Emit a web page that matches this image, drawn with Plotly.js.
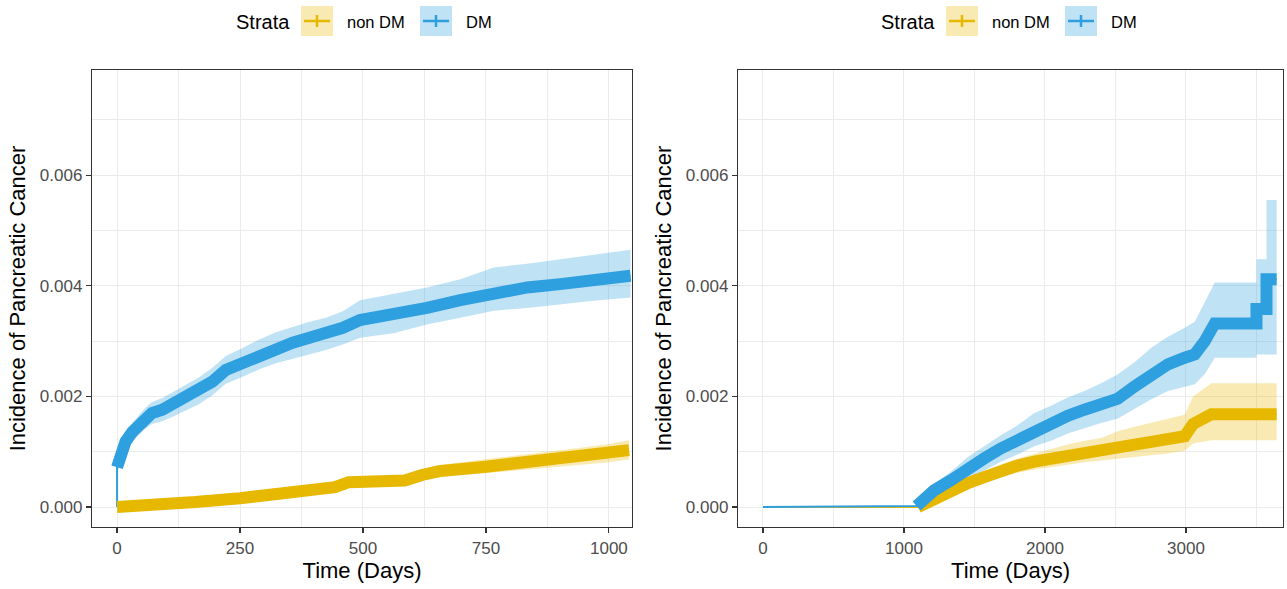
<!DOCTYPE html>
<html>
<head>
<meta charset="utf-8">
<script src="https://cdn.plot.ly/plotly-3.0.1.min.js"></script>
<style>html,body{margin:0;padding:0;background:#fff;}#chart{width:1287px;height:589px;}</style>
</head>
<body>
<div id="chart"></div>
<script>
// ---------- Data ----------
const strata = ["non DM", "DM"];
const colors = ["#E7B800", "#2E9FDF"];
const ciColors = ["rgba(231,184,0,0.3)", "rgba(46,159,223,0.3)"];

// Left panel: 0-1000 days
const dmLeftDays = [0, 0, 10, 17, 31, 44, 58, 71, 92, 112, 139, 166, 194, 221, 252, 289, 323, 357, 391, 425, 459, 494, 562, 630, 698, 766, 834, 901, 969, 1044];
const dmLeftInc = [0, 0.00072, 0.00106, 0.00118, 0.00136, 0.00148, 0.00161, 0.0017, 0.00176, 0.00185, 0.00197, 0.0021, 0.00227, 0.00248, 0.0026, 0.00276, 0.00288, 0.00297, 0.00306, 0.00313, 0.00324, 0.00338, 0.00348, 0.0036, 0.00374, 0.00388, 0.00397, 0.00403, 0.00412, 0.00418];
const dmLeftUpper = [0, 0.00085, 0.0012, 0.00133, 0.00152, 0.00166, 0.0018, 0.0019, 0.00197, 0.00207, 0.0022, 0.00234, 0.00252, 0.00273, 0.00286, 0.00303, 0.00316, 0.00326, 0.00335, 0.00342, 0.00354, 0.00374, 0.00385, 0.00397, 0.00412, 0.00433, 0.0044, 0.00448, 0.00457, 0.00465];
const dmLeftLower = [0, 0.0006, 0.00092, 0.00103, 0.0012, 0.0013, 0.00142, 0.0015, 0.00155, 0.00163, 0.00174, 0.00186, 0.00202, 0.00223, 0.00234, 0.00249, 0.0026, 0.00268, 0.00277, 0.00284, 0.00294, 0.00306, 0.00314, 0.0033, 0.00342, 0.00355, 0.0036, 0.00367, 0.00373, 0.00379];

const ndLeftDays = [0, 88, 159, 250, 322, 375, 443, 471, 500, 585, 620, 655, 750, 833, 875, 938, 1000, 1041];
const ndLeftInc = [0, 0.00003, 0.00009, 0.00016, 0.00022, 0.0003, 0.00036, 0.00045, 0.00047, 0.00048, 0.00058, 0.00065, 0.00073, 0.00081, 0.00085, 0.00091, 0.00097, 0.00103];
const ndLeftUpper = [0, 0.00006, 0.00013, 0.00021, 0.00028, 0.00036, 0.00043, 0.00053, 0.00055, 0.00057, 0.00068, 0.00076, 0.00086, 0.00095, 0.001, 0.00107, 0.00114, 0.00121];
const ndLeftLower = [0, 0.00001, 0.00005, 0.00011, 0.00016, 0.00024, 0.00029, 0.00037, 0.00039, 0.0004, 0.00048, 0.00054, 0.00061, 0.00068, 0.00071, 0.00076, 0.00081, 0.00086];

// Right panel: landmark after ~3 years
const dmRightDays = [0, 1090, 1213, 1332, 1450, 1569, 1687, 1806, 1924, 2043, 2161, 2280, 2398, 2517, 2635, 2754, 2872, 2991, 3062, 3133, 3204, 3500, 3500, 3571, 3571, 3643];
const dmRightInc = [0, 0.00002, 0.0003, 0.00048, 0.0007, 0.00088, 0.00106, 0.00121, 0.00138, 0.0015, 0.00165, 0.00176, 0.00188, 0.00196, 0.00218, 0.0024, 0.00258, 0.0027, 0.00276, 0.003, 0.00332, 0.00332, 0.00358, 0.00358, 0.00412, 0.00412];
const dmRightUpper = [0, 0.00006, 0.00042, 0.00064, 0.0009, 0.0011, 0.0013, 0.00148, 0.0017, 0.00183, 0.00198, 0.0021, 0.00224, 0.0024, 0.00262, 0.00288, 0.00308, 0.00324, 0.00335, 0.0037, 0.00406, 0.00406, 0.00448, 0.00448, 0.00555, 0.00555];
const dmRightLower = [0, 0, 0.00018, 0.00033, 0.0005, 0.00066, 0.00082, 0.00095, 0.0011, 0.0012, 0.00133, 0.00143, 0.00152, 0.0016, 0.00178, 0.00195, 0.0021, 0.00218, 0.00222, 0.0024, 0.0027, 0.0027, 0.00276, 0.00276, 0.00276, 0.00276];

const ndRightDays = [0, 1100, 1213, 1332, 1450, 1569, 1687, 1806, 1924, 2043, 2161, 2280, 2398, 2517, 2635, 2754, 2872, 2991, 3050, 3180, 3643];
const ndRightInc = [0, 0, 0.00015, 0.0003, 0.00043, 0.00054, 0.00066, 0.00075, 0.00082, 0.00088, 0.00094, 0.001, 0.00104, 0.00108, 0.00113, 0.00118, 0.00123, 0.00128, 0.0015, 0.00168, 0.00168];
const ndRightUpper = [0, 0.00003, 0.0002, 0.00036, 0.0005, 0.00063, 0.00077, 0.00088, 0.00097, 0.00105, 0.00113, 0.0012, 0.00125, 0.00137, 0.00145, 0.00152, 0.0016, 0.00167, 0.002, 0.00224, 0.00224];
const ndRightLower = [0, 0, 0.0001, 0.00022, 0.00034, 0.00044, 0.00054, 0.00062, 0.00068, 0.00072, 0.00077, 0.00081, 0.00084, 0.00087, 0.0009, 0.00093, 0.00097, 0.00102, 0.00115, 0.00121, 0.00121];

const yTickVals = [0, 0.002, 0.004, 0.006];
const yTickText = ["0.000", "0.002", "0.004", "0.006"];
const xLeftTicks = [0, 250, 500, 750, 1000];
const xRightTicks = [0, 1000, 2000, 3000];

// ---------- Build traces ----------
// series: [days, inc, upper, lower, strataIndex, censorStartIndex]
const panels = [
  { xa: "x", ya: "y", series: [
    [ndLeftDays, ndLeftInc, ndLeftUpper, ndLeftLower, 0, 0],
    [dmLeftDays, dmLeftInc, dmLeftUpper, dmLeftLower, 1, 1]
  ]},
  { xa: "x2", ya: "y2", series: [
    [ndRightDays, ndRightInc, ndRightUpper, ndRightLower, 0, 1],
    [dmRightDays, dmRightInc, dmRightUpper, dmRightLower, 1, 1]
  ]}
];

const traces = [];
panels.forEach(p => {
  // confidence ribbons
  p.series.forEach(s => {
    const [d, v, up, lo, k, st] = s;
    traces.push({ x: d.slice(st), y: lo.slice(st), xaxis: p.xa, yaxis: p.ya, mode: "lines",
      line: { width: 0, color: ciColors[k] }, showlegend: false, hoverinfo: "skip" });
    traces.push({ x: d.slice(st), y: up.slice(st), xaxis: p.xa, yaxis: p.ya, mode: "lines",
      line: { width: 0, color: ciColors[k] }, fill: "tonexty", fillcolor: ciColors[k],
      showlegend: false, hoverinfo: "skip" });
  });
  // thin curve lines
  p.series.forEach(s => {
    const [d, v, up, lo, k] = s;
    traces.push({ x: d, y: v, xaxis: p.xa, yaxis: p.ya, mode: "lines",
      line: { width: 2, color: colors[k] }, name: strata[k], showlegend: false });
  });
  // dense censor marks -> thick band
  p.series.forEach(s => {
    const [d, v, up, lo, k, st] = s;
    traces.push({ x: d.slice(st), y: v.slice(st), xaxis: p.xa, yaxis: p.ya, mode: "lines",
      line: { width: 12, color: colors[k] }, showlegend: false, hoverinfo: "skip" });
  });
});

// ---------- Layout ----------
const W = 1287, H = 589;
const px = v => v / W, py = v => 1 - v / H;
const font = "Liberation Sans, Arial, sans-serif";

function xAxis(range, ticks, minorStep, domain, anchor) {
  return {
    domain: domain, range: range, anchor: anchor,
    tickvals: ticks, ticktext: ticks.map(String),
    showgrid: true, gridcolor: "#ebebeb", gridwidth: 1,
    minor: { dtick: minorStep, tick0: 0, showgrid: true, gridcolor: "#ebebeb", gridwidth: 1, ticks: "" },
    zeroline: false, showline: true, mirror: true, linecolor: "#333333", linewidth: 1.2,
    ticks: "outside", ticklen: 5, tickwidth: 1.2, tickcolor: "#333333",
    tickfont: { family: font, size: 17, color: "#4d4d4d" },
    title: { text: "Time (Days)", font: { family: font, size: 22, color: "#000" }, standoff: 4 }
  };
}
function yAxis(domain, anchor) {
  return {
    domain: domain, range: [-0.00036, 0.0079], anchor: anchor,
    tickvals: yTickVals, ticktext: yTickText,
    showgrid: true, gridcolor: "#ebebeb", gridwidth: 1,
    minor: { dtick: 0.001, tick0: 0, showgrid: true, gridcolor: "#ebebeb", gridwidth: 1, ticks: "" },
    zeroline: false, showline: true, mirror: true, linecolor: "#333333", linewidth: 1.2,
    ticks: "outside", ticklen: 5, tickwidth: 1.2, tickcolor: "#333333",
    tickfont: { family: font, size: 17, color: "#4d4d4d" },
    title: { text: "Incidence of Pancreatic Cancer", font: { family: font, size: 22, color: "#000" }, standoff: 8 }
  };
}

const yDom = [1 - 527 / H, 1 - 70 / H];

// manual legends (one per panel)
const shapes = [], annotations = [];
[0, 645].forEach(off => {
  annotations.push({ xref: "paper", yref: "paper", x: px(234 + off), y: py(22), xanchor: "left", yanchor: "middle",
    text: "Strata", showarrow: false, font: { family: font, size: 20, color: "#000" } });
  const keys = [[301, 345, 0], [420, 464, 1]];
  keys.forEach(([bx, tx, k]) => {
    shapes.push({ type: "rect", xref: "paper", yref: "paper", x0: px(bx + off), x1: px(bx + 32 + off),
      y0: py(36), y1: py(6), fillcolor: ciColors[k], line: { width: 0 } });
    shapes.push({ type: "line", xref: "paper", yref: "paper", x0: px(bx + 3 + off), x1: px(bx + 29 + off),
      y0: py(21), y1: py(21), line: { color: colors[k], width: 2.5 } });
    shapes.push({ type: "line", xref: "paper", yref: "paper", x0: px(bx + 16 + off), x1: px(bx + 16 + off),
      y0: py(15), y1: py(27), line: { color: colors[k], width: 2.5 } });
    annotations.push({ xref: "paper", yref: "paper", x: px(tx + off), y: py(22), xanchor: "left", yanchor: "middle",
      text: strata[k], showarrow: false, font: { family: font, size: 16.5, color: "#000" } });
  });
});

const layout = {
  width: W, height: H,
  margin: { l: 0, r: 0, t: 0, b: 0 },
  paper_bgcolor: "#ffffff", plot_bgcolor: "#ffffff",
  showlegend: false,
  font: { family: font },
  xaxis: xAxis([-51, 1047], xLeftTicks, 125, [92 / W, 632 / W], "y"),
  yaxis: yAxis(yDom, "x"),
  xaxis2: xAxis([-177, 3688], xRightTicks, 500, [738 / W, 1283 / W], "y2"),
  yaxis2: yAxis(yDom, "x2"),
  shapes: shapes,
  annotations: annotations
};

Plotly.newPlot("chart", traces, layout, { staticPlot: true, displayModeBar: false });
</script>
</body>
</html>
